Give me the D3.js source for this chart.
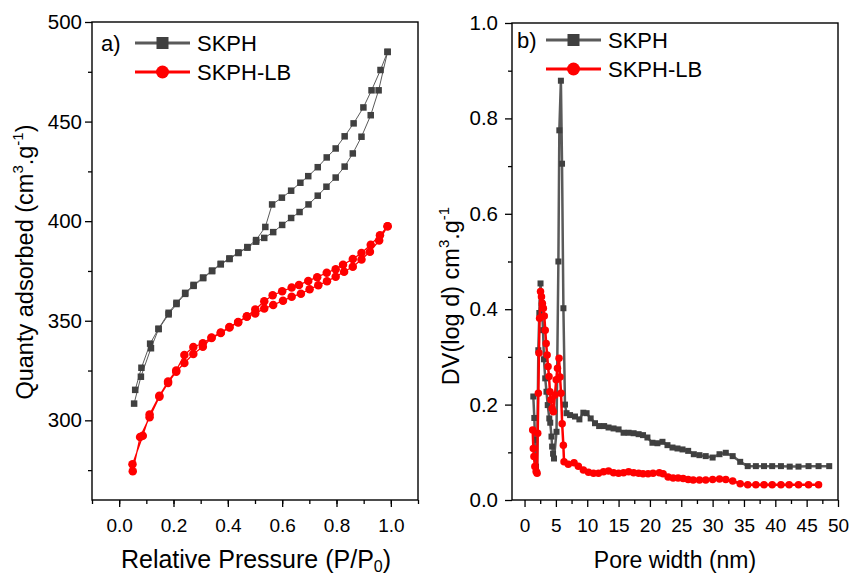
<!DOCTYPE html>
<html>
<head>
<meta charset="utf-8">
<script src="https://cdn.jsdelivr.net/npm/d3@7"></script>
<style>
  body { margin: 0; background: #fff; }
  text { font-family: Arial, "Liberation Sans", sans-serif; fill: #000; }
  .frame { fill: none; stroke: #000; stroke-width: 1.4; }
  .axis path { display: none; }
  .axis line { stroke: #000; stroke-width: 1.3; }
</style>
</head>
<body>
<div id="chart"></div>
<script>
// isotherm, panel a: [P/P0, quantity]
var skphAds = [[0.055,308.4],[0.080,321.9],[0.117,336.2],[0.145,345.8],[0.182,353.2],[0.211,358.4],[0.243,363.5],[0.274,367.5],[0.309,371.4],[0.342,374.9],[0.374,378.3],[0.406,381],[0.439,384],[0.472,386.7],[0.504,389.7],[0.534,391.6],[0.567,394.5],[0.600,398.1],[0.633,401.6],[0.664,404.6],[0.697,408.4],[0.731,412.8],[0.763,417.3],[0.797,421.9],[0.830,427.4],[0.860,434],[0.892,442.4],[0.926,453.2],[0.955,465.7],[0.988,485]]
var skphDes = [[0.988,485],[0.962,475.9],[0.929,465.7],[0.899,457.1],[0.863,449.1],[0.830,442.6],[0.797,436.5],[0.764,432],[0.731,427.1],[0.696,422.6],[0.667,419.3],[0.633,415.3],[0.599,411.8],[0.563,408.4],[0.538,397.1],[0.504,390.5],[0.472,387],[0.439,384.3],[0.406,381.3],[0.374,378.6],[0.342,375.2],[0.309,371.7],[0.274,368],[0.243,364],[0.211,359],[0.182,354],[0.145,346],[0.114,338.5],[0.082,326.4],[0.059,315.3]]
var lbAds = [[0.050,274.4],[0.077,291.6],[0.112,301.5],[0.148,311.8],[0.180,318.8],[0.210,324.4],[0.240,328.8],[0.273,333.3],[0.308,337],[0.340,341.3],[0.374,343.8],[0.406,346.6],[0.438,349.1],[0.470,352],[0.501,353.7],[0.534,356.1],[0.567,357.9],[0.603,360.1],[0.635,362],[0.669,363.6],[0.701,365.8],[0.733,367.8],[0.765,369.8],[0.797,372.1],[0.828,374.6],[0.860,377.1],[0.892,380.7],[0.923,384.7],[0.957,390.3],[0.988,397.5]]
var lbDes = [[0.988,397.5],[0.960,392.9],[0.926,388.2],[0.892,384],[0.860,381],[0.824,378.1],[0.797,375.9],[0.764,374.1],[0.729,371.9],[0.696,370],[0.662,368],[0.635,366.7],[0.600,364.8],[0.565,362.8],[0.534,359.8],[0.501,355.7],[0.470,352.3],[0.438,349.4],[0.406,346.9],[0.374,344.1],[0.340,341.6],[0.308,338.7],[0.273,336.8],[0.240,332.8],[0.210,325],[0.180,319.5],[0.148,312.3],[0.112,302.9],[0.087,292.3],[0.049,277.9]]

// pore size distribution, panel b: [width nm, DV(log d)]
var skphPsd = [[1.4,0.217],[1.56,0.172],[1.67,0.126],[1.83,0.07],[2.0,0.057],[2.2,0.314],[2.36,0.392],[2.55,0.454],[2.74,0.413],[2.95,0.356],[3.1,0.295],[3.3,0.255],[3.5,0.227],[3.7,0.199],[3.95,0.171],[4.1,0.162],[4.3,0.133],[4.4,0.112],[4.55,0.097],[4.7,0.087],[5.1,0.143],[5.4,0.50],[5.55,0.775],[5.8,0.879],[5.98,0.705],[6.2,0.402],[6.45,0.20],[6.7,0.182],[7.26,0.178],[8.05,0.175],[8.75,0.169],[9.38,0.183],[9.9,0.182],[10.55,0.171],[11.24,0.161],[11.9,0.155],[12.7,0.155],[13.4,0.152],[14.2,0.150],[15.0,0.148],[15.8,0.141],[16.6,0.141],[17.4,0.140],[18.2,0.138],[18.9,0.136],[19.6,0.131],[20.4,0.120],[21.2,0.119],[22.0,0.122],[22.8,0.115],[23.6,0.110],[24.4,0.108],[25.2,0.106],[26.1,0.103],[27.0,0.096],[27.9,0.094],[28.9,0.092],[30.0,0.089],[31.1,0.096],[32.1,0.099],[33.2,0.092],[34.4,0.080],[35.6,0.071],[36.9,0.071],[38.2,0.071],[39.5,0.071],[40.9,0.071],[42.3,0.070],[43.7,0.070],[45.3,0.071],[46.9,0.071],[48.6,0.071]]
var lbPsd = [[1.3,0.147],[1.4,0.108],[1.5,0.091],[1.65,0.07],[1.85,0.06],[2.0,0.056],[2.1,0.14],[2.2,0.224],[2.3,0.308],[2.4,0.381],[2.55,0.437],[2.7,0.426],[2.85,0.412],[3.0,0.402],[3.15,0.386],[3.3,0.356],[3.45,0.328],[3.6,0.304],[3.75,0.28],[3.9,0.259],[4.05,0.227],[4.2,0.21],[4.4,0.192],[4.6,0.185],[4.85,0.22],[5.05,0.252],[5.25,0.276],[5.5,0.297],[5.66,0.258],[5.82,0.224],[6.0,0.16],[6.19,0.115],[6.3,0.08],[6.98,0.075],[7.9,0.078],[8.58,0.071],[9.38,0.063],[10.2,0.058],[11.0,0.056],[11.8,0.056],[12.6,0.059],[13.4,0.061],[14.2,0.057],[15.0,0.056],[15.8,0.057],[16.6,0.059],[17.4,0.057],[18.2,0.056],[18.9,0.055],[19.7,0.055],[20.5,0.056],[21.5,0.057],[22.1,0.055],[22.9,0.048],[23.7,0.046],[24.5,0.046],[25.3,0.045],[26.1,0.043],[26.9,0.042],[27.9,0.042],[28.9,0.042],[30.0,0.043],[31.1,0.044],[32.1,0.043],[33.2,0.040],[34.4,0.034],[35.6,0.032],[36.9,0.032],[38.2,0.032],[39.5,0.032],[40.9,0.032],[42.2,0.032],[43.7,0.032],[45.3,0.032],[46.9,0.032]]

var seriesNames = ["SKPH", "SKPH-LB"]
var isoXTicks = [0, 0.2, 0.4, 0.6, 0.8, 1.0]
var isoYTicks = [300, 350, 400, 450, 500]
var psdXTicks = [0, 5, 10, 15, 20, 25, 30, 35, 40, 45, 50]
var psdYTicks = [0, 0.2, 0.4, 0.6, 0.8, 1.0]

var W = 851, H = 576
var GRAY = "#404040", GRAY_LINE = "#5a5a5a", RED = "#ff0000"

var svg = d3.select("#chart").append("svg")
  .attr("width", W)
  .attr("height", H)

function drawPanel(opt) {
  var g = svg.append("g")
  var x = d3.scaleLinear().domain(opt.xDomain).range([opt.left, opt.right])
  var y = d3.scaleLinear().domain(opt.yDomain).range([opt.bottom, opt.top])

  // minor ticks first, majors on top
  g.append("g").attr("class", "axis")
    .attr("transform", "translate(0," + opt.bottom + ")")
    .call(d3.axisBottom(x).tickValues(opt.xMinor).tickSize(4).tickFormat(""))
  g.append("g").attr("class", "axis")
    .attr("transform", "translate(0," + opt.bottom + ")")
    .call(d3.axisBottom(x).tickValues(opt.xTicks).tickSize(7).tickPadding(12).tickFormat(opt.xFormat))
    .selectAll("text").style("font-size", "19px")
  g.append("g").attr("class", "axis")
    .attr("transform", "translate(" + opt.left + ",0)")
    .call(d3.axisLeft(y).tickValues(opt.yMinor).tickSize(4).tickFormat(""))
  g.append("g").attr("class", "axis")
    .attr("transform", "translate(" + opt.left + ",0)")
    .call(d3.axisLeft(y).tickValues(opt.yTicks).tickSize(7).tickPadding(opt.yPad).tickFormat(opt.yFormat))
    .selectAll("text").style("font-size", "20.5px")

  g.append("rect").attr("class", "frame")
    .attr("x", opt.left).attr("y", opt.top)
    .attr("width", opt.right - opt.left).attr("height", opt.bottom - opt.top)

  var clipId = "clip" + opt.tag
  svg.append("clipPath").attr("id", clipId).append("rect")
    .attr("x", opt.left).attr("y", opt.top)
    .attr("width", opt.right - opt.left).attr("height", opt.bottom - opt.top)
  var plot = g.append("g").attr("clip-path", "url(#" + clipId + ")")

  var line = d3.line().x(function(d) { return x(d[0]) }).y(function(d) { return y(d[1]) })

  opt.series.forEach(function(s) {
    plot.append("path")
      .attr("d", line(s.data))
      .attr("fill", "none")
      .attr("stroke", s.lineColor)
      .attr("stroke-width", s.lineWidth)
      .attr("stroke-linejoin", "round")
    if (s.shape === "square") {
      plot.selectAll(null).data(s.data).enter().append("rect")
        .attr("x", function(d) { return x(d[0]) - s.size / 2 })
        .attr("y", function(d) { return y(d[1]) - s.size / 2 })
        .attr("width", s.size).attr("height", s.size)
        .attr("fill", s.color)
    } else {
      plot.selectAll(null).data(s.data).enter().append("circle")
        .attr("cx", function(d) { return x(d[0]) })
        .attr("cy", function(d) { return y(d[1]) })
        .attr("r", s.size / 2)
        .attr("fill", s.color)
    }
  })

  // panel letter and legend
  g.append("text").attr("x", opt.legend.lx).attr("y", opt.legend.y0 + 8)
    .style("font-size", "22px").text(opt.letter)
  opt.series.forEach(function(s, i) {
    var ly = opt.legend.y0 + i * 29
    g.append("line")
      .attr("x1", opt.legend.x0).attr("x2", opt.legend.x0 + 55)
      .attr("y1", ly).attr("y2", ly)
      .attr("stroke", s.legendLine).attr("stroke-width", 3)
    var cx = opt.legend.x0 + 27.5
    if (s.shape === "square") {
      g.append("rect").attr("x", cx - 6).attr("y", ly - 6).attr("width", 12).attr("height", 12)
        .attr("fill", s.color)
    } else {
      g.append("circle").attr("cx", cx).attr("cy", ly).attr("r", 6.5).attr("fill", s.color)
    }
    g.append("text").attr("x", opt.legend.x0 + 62).attr("y", ly + 8)
      .style("font-size", "22px").text(s.name)
  })

  // axis titles
  var xt = g.append("text").attr("text-anchor", "middle")
    .attr("x", (opt.left + opt.right) / 2 + opt.xTitleDx).attr("y", opt.xTitleY)
    .style("font-size", opt.xTitleSize)
  opt.xTitle(xt)
  var yt = g.append("text").attr("text-anchor", "middle")
    .attr("transform", "translate(" + opt.yTitleX + "," + opt.yTitleCy + ") rotate(-90)")
    .style("font-size", opt.yTitleSize)
  opt.yTitle(yt)
}

function sup(t, s, shift) {
  t.append("tspan").attr("dy", shift).style("font-size", "15px").text(s)
}

drawPanel({
  tag: "a", letter: "a)",
  left: 92, right: 418, top: 22, bottom: 500,
  xDomain: [-0.1, 1.1], yDomain: [260, 500],
  xTicks: isoXTicks, xMinor: d3.range(-0.1, 1.15, 0.1),
  yTicks: isoYTicks, yMinor: d3.range(275, 500, 50), yPad: 3,
  xFormat: d3.format(".1f"), yFormat: d3.format("d"),
  series: [
    { name: seriesNames[0], data: skphAds.concat(skphDes), shape: "square", size: 6.5,
      color: GRAY, lineColor: GRAY_LINE, lineWidth: 1, legendLine: GRAY_LINE },
    { name: seriesNames[1], data: lbAds.concat(lbDes), shape: "circle", size: 8.5,
      color: RED, lineColor: RED, lineWidth: 1.3, legendLine: RED }
  ],
  legend: { lx: 101, x0: 135, y0: 43 },
  xTitleDx: 1, xTitleY: 568, xTitleSize: "25px",
  yTitleX: 33, yTitleCy: 262, yTitleSize: "23.5px",
  xTitle: function(t) {
    t.append("tspan").text("Relative Pressure (P/P")
    t.append("tspan").attr("dy", 4).style("font-size", "16px").text("0")
    t.append("tspan").attr("dy", -4).text(")")
  },
  yTitle: function(t) {
    t.append("tspan").text("Quanty adsorbed (cm")
    sup(t, "3", -10)
    t.append("tspan").attr("dy", 10).text(".g")
    sup(t, "-1", -10)
    t.append("tspan").attr("dy", 10).text(")")
  }
})

drawPanel({
  tag: "b", letter: "b)",
  left: 512, right: 838, top: 23, bottom: 500,
  xDomain: [-2, 50], yDomain: [0, 1.0],
  xTicks: psdXTicks, xMinor: d3.range(2.5, 50, 5),
  yTicks: psdYTicks, yMinor: d3.range(0.1, 1.0, 0.2), yPad: 7,
  xFormat: d3.format("d"), yFormat: d3.format(".1f"),
  series: [
    { name: seriesNames[0], data: skphPsd, shape: "square", size: 6,
      color: GRAY, lineColor: GRAY_LINE, lineWidth: 2.5, legendLine: GRAY_LINE },
    { name: seriesNames[1], data: lbPsd, shape: "circle", size: 7.5,
      color: RED, lineColor: RED, lineWidth: 2.5, legendLine: RED }
  ],
  legend: { lx: 517, x0: 546, y0: 40 },
  xTitleDx: 0, xTitleY: 568, xTitleSize: "23px",
  yTitleX: 459, yTitleCy: 296, yTitleSize: "23.5px",
  xTitle: function(t) { t.text("Pore width (nm)") },
  yTitle: function(t) {
    t.append("tspan").text("DV(log d) cm")
    sup(t, "3", -10)
    t.append("tspan").attr("dy", 10).text(".g")
    sup(t, "-1", -10)
  }
})
</script>
</body>
</html>
